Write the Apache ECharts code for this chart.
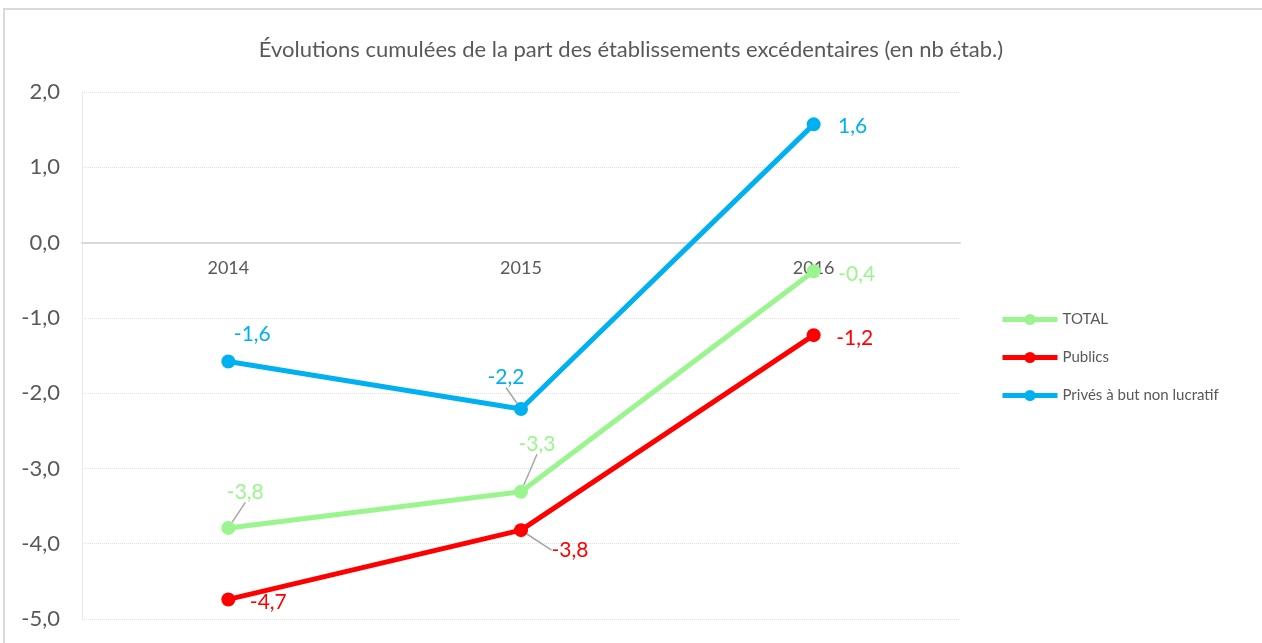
<!DOCTYPE html>
<html>
<head>
<meta charset="utf-8">
<style>
    html, body { margin: 0; padding: 0; background: #ffffff; }
    #chart { width: 1262px; height: 643px; }
</style>
<script src="https://cdn.jsdelivr.net/npm/echarts@6/dist/echarts.min.js"></script>
</head>
<body>
<div id="chart"></div>
<script>
    const years = ['2014', '2015', '2016'];
    const total = [-3.79, -3.31, -0.38];
    const publics = [-4.74, -3.82, -1.23];
    const prives = [-1.58, -2.21, 1.57];
    const yTicks = [-5, -4, -3, -2, -1, 0, 1, 2];

    // label offsets from the point (dx, dy), leader line on/off
    const offTotal = [[17, -36, true], [16, -48, true], [43, 3, false]];
    const offPublics = [[40, 3, false], [49, 20, true], [41, 3, false]];
    const offPrives = [[24, -27, false], [-15, -32, true], [39, 2, false]];

    const font = 'Lato, "Open Sans", sans-serif';
    const grey = '#595959';

    function fmt(v) {
        return v.toFixed(1).replace('.', ',');
    }

    function makeSeries(name, values, color, offs) {
        return {
            name: name,
            type: 'line',
            symbol: 'circle',
            symbolSize: 14,
            lineStyle: { width: 5, color: color },
            itemStyle: { color: color },
            label: {
                show: true,
                position: 'inside',
                color: color,
                fontSize: 21,
                fontFamily: font,
                formatter: p => fmt(p.value)
            },
            labelLine: { show: false, lineStyle: { color: '#a6a6a6', width: 1.5 } },
            labelLayout: p => ({ dx: offs[p.dataIndex][0], dy: offs[p.dataIndex][1] }),
            data: values.map((v, i) => ({
                value: v,
                labelLine: { show: offs[i][2] }
            }))
        };
    }

    const chart = echarts.init(document.getElementById('chart'));
    const option = {
        animation: false,
        textStyle: { fontFamily: font },
        title: {
            text: 'Évolutions cumulées de la part des établissements excédentaires (en nb étab.)',
            left: 'center',
            top: 34,
            textStyle: { color: grey, fontSize: 22, fontWeight: 'normal', fontFamily: font }
        },
        graphic: [{
            type: 'rect',
            shape: { x: 4, y: 9, width: 1300, height: 700 },
            style: { fill: 'none', stroke: '#d9d9d9', lineWidth: 2 },
            silent: true
        }],
        legend: {
            orient: 'vertical',
            left: 995,
            top: 307,
            itemWidth: 55,
            itemHeight: 14,
            itemGap: 23,
            lineStyle: { width: 5 },
            textStyle: { color: grey, fontSize: 15, fontFamily: font },
            data: ['TOTAL', 'Publics', 'Privés à but non lucratif']
        },
        grid: { left: 82, right: 302, top: 92, bottom: 24, outerBoundsMode: 'none', containLabel: false },
        xAxis: {
            type: 'category',
            data: years,
            axisLine: { onZero: false, lineStyle: { color: '#d9d9d9', width: 2 } },
            axisTick: { show: false },
            axisLabel: { color: grey, fontSize: 18, margin: 17, fontFamily: font }
        },
        yAxis: {
            type: 'value',
            min: yTicks[0],
            max: yTicks[yTicks.length - 1],
            interval: 1,
            axisLine: { show: true, lineStyle: { color: '#e6e6e6', type: 'dotted', width: 1 } },
            axisTick: { show: false },
            splitLine: { lineStyle: { color: '#e0e0e0', type: 'dotted', width: 1 } },
            axisLabel: { color: grey, fontSize: 22, margin: 22, fontFamily: font, formatter: v => fmt(v) }
        },
        series: [
            makeSeries('TOTAL', total, '#9AF58E', offTotal),
            makeSeries('Publics', publics, '#FF0000', offPublics),
            makeSeries('Privés à but non lucratif', prives, '#00B0F0', offPrives)
        ]
    };
    chart.setOption(option);

    // move the category axis up onto the zero line
    const zeroY = chart.convertToPixel({ yAxisIndex: 0 }, 0);
    const bottomY = chart.convertToPixel({ yAxisIndex: 0 }, yTicks[0]);
    chart.setOption({ xAxis: { offset: -(bottomY - zeroY) } });
</script>
</body>
</html>
